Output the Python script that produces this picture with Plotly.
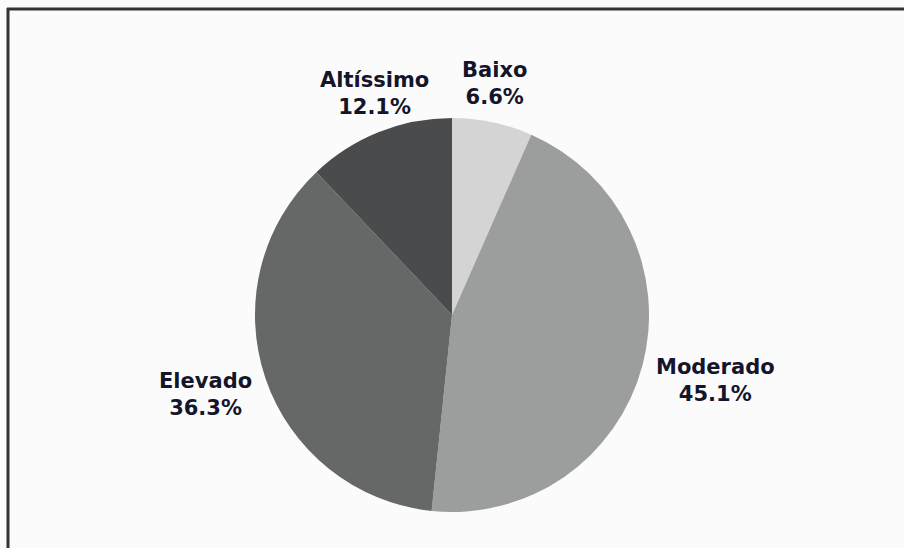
import math
import plotly.graph_objects as go

categories = ["Baixo", "Moderado", "Elevado", "Altíssimo"]
values = [6.6, 45.1, 36.3, 12.1]
colors = ["#d4d4d4", "#9c9d9d", "#666868", "#4a4b4d"]

W, H = 904, 548
ml, mr, mt, mb = 0, 0, 118, 36
pw = W - ml - mr
ph = H - mt - mb
R = min(pw, ph) / 2.0
LABEL_K = 1.06
FONT = dict(family="DejaVu Sans", size=21, color="#14142b", weight="bold")

fig = go.Figure(
    go.Pie(
        labels=categories,
        values=values,
        sort=False,
        direction="clockwise",
        rotation=0,
        marker=dict(colors=colors, line=dict(width=0)),
        textinfo="none",
        hoverinfo="label+value",
        showlegend=False,
    )
)

# labels placed just outside each slice, at its mid-angle
total = sum(values)
annotations = []
cum = 0.0
for cat, v in zip(categories, values):
    mid = (cum + v / 2.0) / total * 2 * math.pi
    cum += v
    s, c = math.sin(mid), math.cos(mid)
    yshift = 0
    if abs(s) > abs(c):
        xa = "left" if s > 0 else "right"
        ya = "middle"
        yshift = -12 if c < 0 else 12
    else:
        xa = "center"
        ya = "bottom" if c > 0 else "top"
    annotations.append(dict(
        xref="paper", yref="paper",
        x=0.5 + LABEL_K * R * s / pw,
        y=0.5 + LABEL_K * R * c / ph,
        xanchor=xa, yanchor=ya, yshift=yshift,
        text=f"{cat}<br>{v:.1f}%",
        showarrow=False,
        font=FONT,
        align="center",
    ))

def px_x(x):
    return (x - ml) / pw
def px_y(y):
    return (H - mb - y) / ph

fig.update_layout(
    width=W,
    height=H,
    margin=dict(l=ml, r=mr, t=mt, b=mb),
    paper_bgcolor="#fbfbfb",
    plot_bgcolor="#fbfbfb",
    annotations=annotations,
    shapes=[
        dict(type="line", xref="paper", yref="paper",
             x0=px_x(8), x1=px_x(8), y0=px_y(8), y1=px_y(H),
             line=dict(color="#333333", width=3)),
        dict(type="line", xref="paper", yref="paper",
             x0=px_x(7), x1=px_x(W), y0=px_y(9), y1=px_y(9),
             line=dict(color="#333333", width=3)),
    ],
)

fig.write_html(
    "out.html",
    config={"displayModeBar": False},
    post_script="document.body.style.margin='0';document.body.style.overflow='hidden';",
)
